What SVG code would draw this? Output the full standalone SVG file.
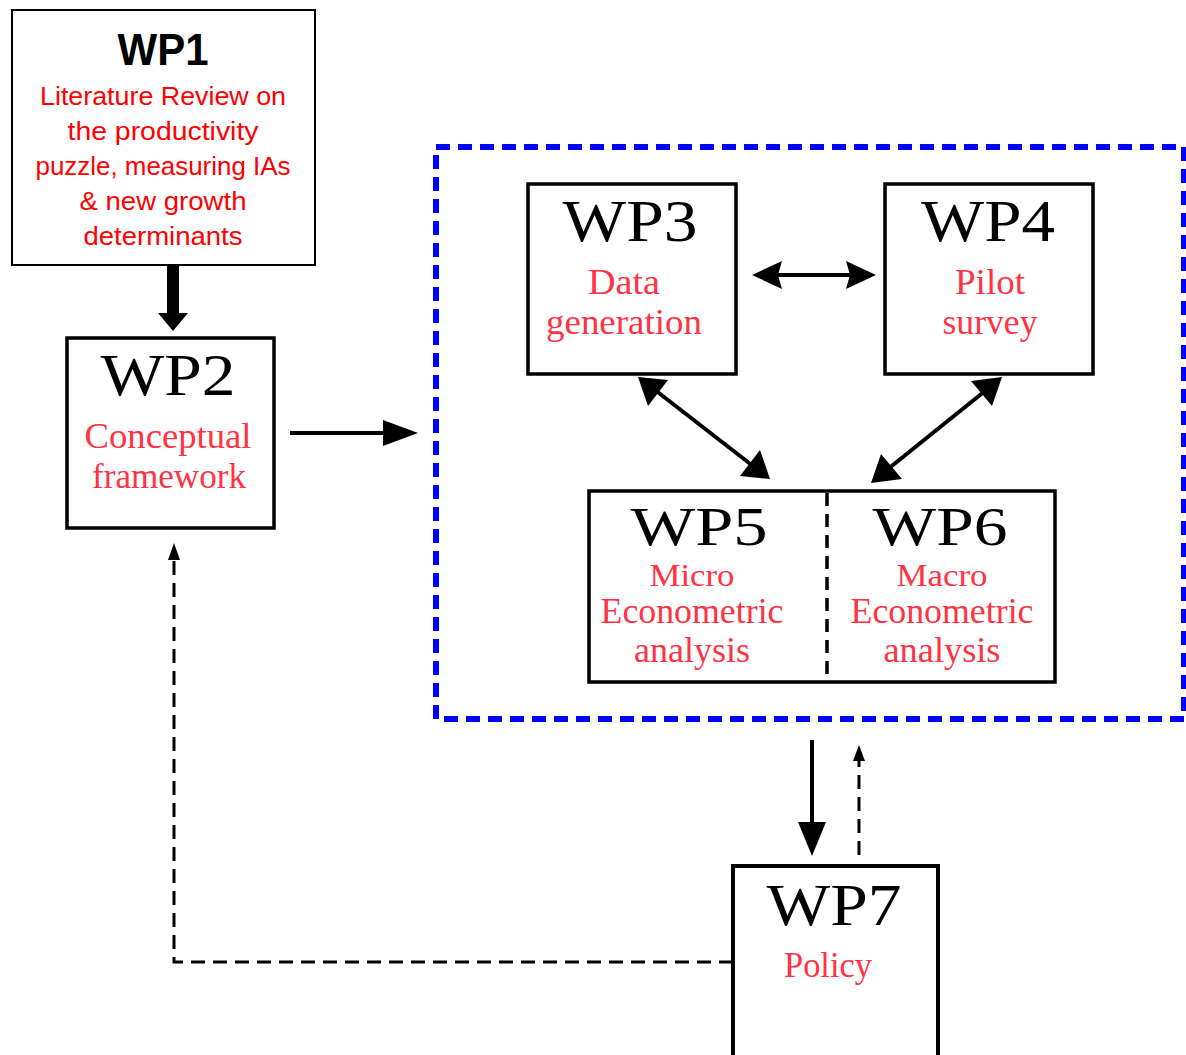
<svg xmlns="http://www.w3.org/2000/svg" width="1186" height="1055" viewBox="0 0 1186 1055">
<style>
.box{fill:#fff;stroke:#000;stroke-width:3.5}
.wp{font-family:"Liberation Serif","DejaVu Serif",serif;font-size:60px;fill:#000;text-anchor:middle}
.ws{font-family:"Liberation Serif","DejaVu Serif",serif;font-size:55px;fill:#000;text-anchor:middle}
.rd{font-family:"Liberation Serif","DejaVu Serif",serif;font-size:36px;fill:#ff3344;text-anchor:middle}
.rs{font-family:"Liberation Serif","DejaVu Serif",serif;font-size:32px;fill:#ff3344;text-anchor:middle}
.t1{font-family:"Liberation Sans",Arial,sans-serif;font-size:25px;fill:#ff0000;text-anchor:middle}
.ln{stroke:#000;stroke-width:4;fill:none}
.dl{stroke:#000;stroke-width:3;fill:none;stroke-dasharray:14 8}
.hd{fill:#000}
</style>
<rect width="1186" height="1055" fill="#fff"/>
<g id="container">
<rect x="436" y="147" width="748" height="572" fill="none" stroke="#0000ff" stroke-width="6" stroke-dasharray="14 8"/>
</g>
<g id="wp1">
<rect x="12" y="10" width="303" height="255" fill="#fff" stroke="#000" stroke-width="2"/>
<text x="163" y="65" font-family="Liberation Sans,Arial,sans-serif" font-weight="bold" font-size="44" text-anchor="middle" textLength="91" lengthAdjust="spacingAndGlyphs">WP1</text>
<text class="t1" x="163" y="105" textLength="246" lengthAdjust="spacingAndGlyphs">Literature Review on</text>
<text class="t1" x="163" y="140" textLength="191" lengthAdjust="spacingAndGlyphs">the productivity</text>
<text class="t1" x="163" y="175" textLength="255" lengthAdjust="spacingAndGlyphs">puzzle, measuring IAs</text>
<text class="t1" x="163" y="210" textLength="167" lengthAdjust="spacingAndGlyphs">&amp; new growth</text>
<text class="t1" x="163" y="245" textLength="159" lengthAdjust="spacingAndGlyphs">determinants</text>
</g>
<g id="wp2">
<rect class="box" x="67" y="338" width="207" height="190"/>
<text class="wp" x="168" y="395" textLength="135" lengthAdjust="spacingAndGlyphs">WP2</text>
<text class="rd" x="168" y="448" textLength="167" lengthAdjust="spacingAndGlyphs">Conceptual</text>
<text class="rd" x="169" y="488" textLength="154" lengthAdjust="spacingAndGlyphs">framework</text>
</g>
<g id="wp3">
<rect class="box" x="528" y="184" width="208" height="190"/>
<text class="wp" x="630" y="241" textLength="135" lengthAdjust="spacingAndGlyphs">WP3</text>
<text class="rd" x="624" y="294" textLength="72" lengthAdjust="spacingAndGlyphs">Data</text>
<text class="rd" x="624" y="334" textLength="156" lengthAdjust="spacingAndGlyphs">generation</text>
</g>
<g id="wp4">
<rect class="box" x="885" y="184" width="208" height="190"/>
<text class="wp" x="988" y="241" textLength="134" lengthAdjust="spacingAndGlyphs">WP4</text>
<text class="rd" x="990" y="294" textLength="70" lengthAdjust="spacingAndGlyphs">Pilot</text>
<text class="rd" x="990" y="334" textLength="95" lengthAdjust="spacingAndGlyphs">survey</text>
</g>
<g id="wp5">
<rect x="589" y="491" width="238" height="191" fill="#fff" stroke="none"/>
<path d="M827 491 H589 V682 H827" fill="none" stroke="#000" stroke-width="3.5"/>
<text class="ws" x="699" y="545" textLength="137" lengthAdjust="spacingAndGlyphs">WP5</text>
<text class="rs" x="692" y="586" textLength="85" lengthAdjust="spacingAndGlyphs">Micro</text>
<text class="rd" x="692" y="623" textLength="183" lengthAdjust="spacingAndGlyphs">Econometric</text>
<text class="rd" x="692" y="662" textLength="116" lengthAdjust="spacingAndGlyphs">analysis</text>
</g>
<g id="wp6">
<rect x="827" y="491" width="228" height="191" fill="#fff" stroke="none"/>
<path d="M827 491 H1055 V682 H827" fill="none" stroke="#000" stroke-width="3.5"/>
<line x1="827" y1="493" x2="827" y2="680" stroke="#000" stroke-width="3.5" stroke-dasharray="13 8"/>
<text class="ws" x="940" y="545" textLength="135" lengthAdjust="spacingAndGlyphs">WP6</text>
<text class="rs" x="942" y="586" textLength="91" lengthAdjust="spacingAndGlyphs">Macro</text>
<text class="rd" x="942" y="623" textLength="183" lengthAdjust="spacingAndGlyphs">Econometric</text>
<text class="rd" x="942" y="662" textLength="117" lengthAdjust="spacingAndGlyphs">analysis</text>
</g>
<g id="wp7">
<rect x="733" y="866" width="205" height="200" fill="#fff" stroke="#000" stroke-width="4"/>
<text class="wp" x="834" y="925" textLength="135" lengthAdjust="spacingAndGlyphs">WP7</text>
<text class="rd" x="828" y="977" textLength="88" lengthAdjust="spacingAndGlyphs">Policy</text>
</g>
<g id="connectors">
<rect x="167" y="265" width="12" height="50" class="hd"/>
<polygon class="hd" points="158,313 188,313 173,331"/>
<line class="ln" x1="290" y1="433" x2="390" y2="433"/>
<polygon class="hd" points="383,420 418,433 383,446"/>
<line class="ln" x1="775" y1="275" x2="853" y2="275"/>
<polygon class="hd" points="752,275 782,261 778,275 782,289"/>
<polygon class="hd" points="876,275 846,261 850,275 846,289"/>
<line class="ln" x1="655" y1="390" x2="753" y2="466"/>
<polygon class="hd" points="638,377 668,380 648,406"/>
<polygon class="hd" points="770,479 740,476 760,450"/>
<line class="ln" x1="985" y1="391" x2="888" y2="469"/>
<polygon class="hd" points="1002,377 992,406 971,381"/>
<polygon class="hd" points="871,483 881,454 902,479"/>
<line class="ln" x1="812" y1="740" x2="812" y2="830"/>
<polygon class="hd" points="798,822 826,822 812,856"/>
<line class="dl" x1="859" y1="855" x2="859" y2="758"/>
<polygon class="hd" points="853,761 865,761 859,745"/>
<polyline class="dl" points="733,962 174,962 174,557"/>
<polygon class="hd" points="168,560 180,560 174,543"/>
</g>
</svg>
